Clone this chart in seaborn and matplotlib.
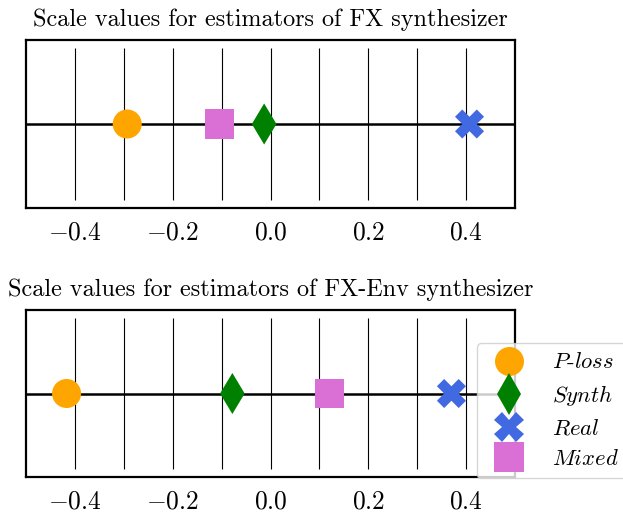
import matplotlib
matplotlib.use("Agg")
import matplotlib.pyplot as plt
from matplotlib.lines import Line2D
import seaborn as sns
import pandas as pd

# ---- data ----
estimators = ["P-loss", "Synth", "Real", "Mixed"]
fx_values = [-0.293, -0.013, 0.407, -0.105]
fxenv_values = [-0.417, -0.078, 0.370, 0.120]
titles = ["Scale values for estimators of FX synthesizer",
          "Scale values for estimators of FX-Env synthesizer"]
legend_labels = [r"$\mathit{P}$-$\mathit{loss}$", r"$\mathit{Synth}$",
                 r"$\mathit{Real}$", r"$\mathit{Mixed}$"]
xticks = [-0.4, -0.2, 0.0, 0.2, 0.4]
grid_x = [-0.4, -0.3, -0.2, -0.1, 0.0, 0.1, 0.2, 0.3, 0.4]

colors = {"P-loss": "#FFA500", "Synth": "#008000", "Real": "#4169E1", "Mixed": "#DA70D6"}
markers = {"P-loss": "o", "Synth": "d", "Real": "X", "Mixed": "s"}

FS = 17.4
TFS = 18.4
LFS = 16.3
plt.rcParams["font.family"] = ["cmr10"]
plt.rcParams["mathtext.fontset"] = "cm"
plt.rcParams["axes.formatter.use_mathtext"] = True
plt.rcParams["font.size"] = FS
plt.rcParams["axes.unicode_minus"] = True

fig = plt.figure(figsize=(6.23, 5.16), dpi=100)
ax1 = fig.add_axes([26 / 623, 1 - 208 / 516, 489 / 623, 168 / 516])
ax2 = fig.add_axes([26 / 623, 1 - 477 / 516, 489 / 623, 167 / 516])

msize = 20.9
for ax, vals, title in [(ax1, fx_values, titles[0]), (ax2, fxenv_values, titles[1])]:
    df = pd.DataFrame({"estimator": estimators, "value": vals, "y": [0.0] * len(vals)})
    ax.vlines(grid_x, -0.9, 0.9, colors="black", linewidth=0.8, zorder=1)
    ax.axhline(0, color="black", linewidth=1.8, zorder=1)
    sns.scatterplot(data=df, x="value", y="y", hue="estimator", style="estimator",
                    palette=colors, markers=markers, s=msize ** 2, linewidth=0,
                    legend=False, ax=ax, zorder=3)
    ax.set_xlim(-0.5, 0.5)
    ax.set_ylim(-1, 1)
    ax.set_xticks(xticks)
    ax.set_yticks([])
    ax.set_xlabel("")
    ax.set_ylabel("")
    ax.tick_params(axis="x", length=0, pad=9, labelsize=TFS)
    for sp in ax.spines.values():
        sp.set_linewidth(1.6)
        sp.set_color("black")
    ax.set_title(title, fontsize=FS, pad=10)

handles = [Line2D([], [], linestyle="none", marker=markers[e], color=colors[e],
                  markersize=msize, markeredgewidth=0) for e in estimators]
ax2.legend(handles, legend_labels, loc="upper left", bbox_to_anchor=(0.922, 0.8),
           borderaxespad=0, fontsize=LFS, labelspacing=0.47, handletextpad=0.9)

fig.savefig("out.png", dpi=100)
